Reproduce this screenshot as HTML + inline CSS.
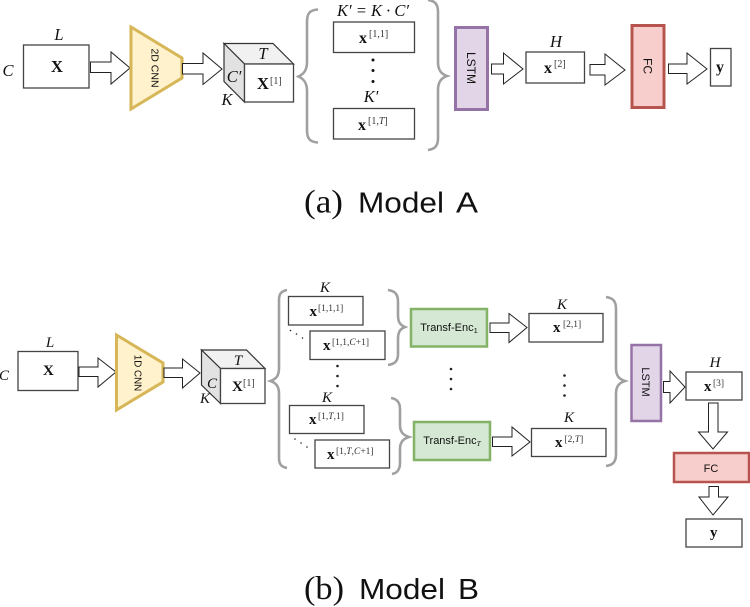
<!DOCTYPE html>
<html><head><meta charset="utf-8">
<style>
html,body{margin:0;padding:0;background:#fff;width:750px;height:607px;overflow:hidden}
svg{display:block}
.b{fill:#fff;stroke:#444;stroke-width:1.3}
.a{fill:#fff;stroke:#222;stroke-width:1}
.br{fill:none;stroke:#a0a0a0;stroke-width:2.6}
text{font-family:"Liberation Serif",serif;fill:#111}
.i{font-style:italic;font-size:16.5px;text-anchor:middle}
.j{font-style:italic;font-size:15px;text-anchor:middle}
.m{font-weight:bold;font-size:16px}
.s{font-size:10px;fill:#333}
.f{font-family:"Liberation Sans",sans-serif}
.c{font-size:33px}
.cs{font-family:"Liberation Sans",sans-serif;font-size:29px}
</style></head><body>
<svg width="750" height="607" viewBox="0 0 750 607" xmlns="http://www.w3.org/2000/svg">
<!-- Model A -->
<rect class="b" x="23.5" y="45" width="65.5" height="43"/>
<text class="i" x="59" y="40">L</text>
<text class="i" x="8" y="76">C</text>
<text class="m" x="51" y="72" style="font-size:16.5px">X</text>
<path class="a" d="M90.5 62H111V52L130 68 111 84V72.5H90.5Z"/>
<path d="M131 27L182 58V78L131 109Z" fill="#fff2cc" stroke="#d6b656" stroke-width="3"/>
<text class="f" transform="translate(151.5 68) rotate(90)" text-anchor="middle" style="font-size:10.5px">2D CNN</text>
<path class="a" d="M182.5 63.5H203V53L222 69 203 84.5V74H182.5Z"/>
<path d="M224 43.5H273L293.5 64H244.5Z" fill="#f1f1f1" stroke="#333" stroke-width="1.2"/>
<path d="M224 43.5L244.5 64V102L224 81.5Z" fill="#e2e2e2" stroke="#333" stroke-width="1.2"/>
<rect class="b" x="244.5" y="64" width="49" height="38"/>
<text class="i" x="263" y="59">T</text>
<text class="i" x="234" y="82">C′</text>
<text class="i" x="227" y="105">K</text>
<text class="m" x="257" y="89" style="font-size:16.5px">X</text>
<text class="s" x="270" y="84">[1]</text>

<path class="br" d="M318 9.5C310 10 307 13 307 22V62C307 70 304 74 298.5 76.5C304 79 307 83 307 91V130C307 139 310 142 318 142.5"/>
<path class="br" d="M428 0C435 1 438 4 438 12V62C438 70 441 74 447 76C441 78 438 82 438 90V138C438 146 435 149 428 150"/>
<rect class="b" x="333.5" y="22" width="81" height="30.5"/>
<rect class="b" x="333.5" y="108.5" width="81" height="30.5"/>
<text class="i" x="373" y="16">K′ = K · C′</text>
<text class="m" x="359" y="43">x</text><text class="s" x="369" y="37">[1,1]</text>
<text class="m" x="358" y="130">x</text><text class="s" x="368" y="124">[1,<tspan font-style="italic">T</tspan>]</text>
<circle cx="373" cy="60" r="1.5" fill="#111"/><circle cx="373" cy="70.5" r="1.5" fill="#111"/><circle cx="373" cy="81.5" r="1.5" fill="#111"/>
<text class="i" x="371" y="102">K′</text>

<rect x="455.5" y="27.5" width="32" height="82" fill="#e1d5e7" stroke="#9673a6" stroke-width="3"/>
<text class="f" transform="translate(467 68) rotate(90)" text-anchor="middle" style="font-size:12px">LSTM</text>
<path class="a" d="M491.5 64H503.5V53L523 69 503.5 84V74H491.5Z"/>
<rect class="b" x="526" y="52" width="58.5" height="31"/>
<text class="i" x="556" y="47">H</text>
<text class="m" x="544" y="73">x</text><text class="s" x="554" y="67">[2]</text>
<path class="a" d="M590 64.5H605V54L625 70 605 85V75H590Z"/>
<rect x="632" y="25.5" width="32" height="82" fill="#f8cecc" stroke="#b85450" stroke-width="3"/>
<text class="f" transform="translate(643.5 66) rotate(90)" text-anchor="middle" style="font-size:12px">FC</text>
<path class="a" d="M668.5 64H687V53L707 69 687 84V73.5H668.5Z"/>
<rect class="b" x="710.5" y="48.5" width="20.5" height="37.5"/>
<text class="m" x="716" y="72">y</text>

<text class="c" x="304" y="212.5" textLength="39" lengthAdjust="spacingAndGlyphs">(a)</text>
<text class="cs" x="358" y="212.5" textLength="86" lengthAdjust="spacingAndGlyphs">Model</text>
<text class="cs" x="456" y="212.5" textLength="22" lengthAdjust="spacingAndGlyphs">A</text>

<!-- Model B -->
<rect class="b" x="18" y="351.5" width="60" height="39"/>
<text class="j" x="50" y="347">L</text>
<text class="j" x="4" y="380">C</text>
<text class="m" x="43" y="375" style="font-size:15px">X</text>
<path class="a" d="M79 367H98V358L116 372 98 387V376.5H79Z"/>
<path d="M116.5 335L163 363V382L116.5 410Z" fill="#fff2cc" stroke="#d6b656" stroke-width="3"/>
<text class="f" transform="translate(134.5 373) rotate(90)" text-anchor="middle" style="font-size:9.8px">1D CNN</text>
<path class="a" d="M164 368H182.5V359L200 373 182.5 388V377.5H164Z"/>
<path d="M201.5 350H246.5L265 368.5H220.5Z" fill="#f1f1f1" stroke="#333" stroke-width="1.2"/>
<path d="M201.5 350L220.5 368.5V403.5L201.5 385Z" fill="#e2e2e2" stroke="#333" stroke-width="1.2"/>
<rect class="b" x="220.5" y="368.5" width="44.5" height="35"/>
<text class="j" x="238" y="365">T</text>
<text class="j" x="212" y="388">C</text>
<text class="j" x="205" y="403">K</text>
<text class="m" x="232" y="391" style="font-size:15px">X</text>
<text class="s" x="243" y="386">[1]</text>

<path class="br" d="M287 290C282 291 279 293 279 300V368C279 376 276 379 270.5 381C276 383 279 386 279 394V458C279 465 282 467 287 468"/>
<rect class="b" x="288.5" y="296.5" width="74.5" height="28.5"/>
<rect class="b" x="310" y="331" width="75" height="28.5"/>
<rect class="b" x="289.5" y="405.5" width="74.5" height="28"/>
<rect class="b" x="315" y="440" width="74.500" height="28"/>
<text class="j" x="325" y="292">K</text>
<text class="j" x="327" y="402">K</text>
<text class="m" x="309.5" y="316" style="font-size:15px">x</text><text class="s" x="318" y="311" style="font-size:9.5px">[1,1,1]</text>
<text class="m" x="323" y="350" style="font-size:15px">x</text><text class="s" x="332" y="345" style="font-size:9.5px">[1,1,<tspan font-style="italic">C</tspan>+1]</text>
<text class="m" x="309" y="424" style="font-size:15px">x</text><text class="s" x="318" y="419" style="font-size:9.5px">[1,<tspan font-style="italic">T</tspan>,1]</text>
<text class="m" x="327" y="459" style="font-size:15px">x</text><text class="s" x="336" y="454" style="font-size:9.5px">[1,<tspan font-style="italic">T</tspan>,<tspan font-style="italic">C</tspan>+1]</text>
<g fill="#222">
<circle cx="337.5" cy="366" r="1.3"/><circle cx="337.5" cy="376" r="1.3"/><circle cx="337.5" cy="386" r="1.3"/>
<circle cx="290.5" cy="330.5" r=".8"/><circle cx="296.5" cy="334" r=".8"/><circle cx="302.5" cy="338" r=".8"/>
<circle cx="295" cy="439" r=".8"/><circle cx="301" cy="443" r=".8"/><circle cx="307" cy="447" r=".8"/>
<circle cx="451" cy="369" r="1.3"/><circle cx="451" cy="379" r="1.3"/><circle cx="451" cy="389" r="1.3"/>
<circle cx="564.5" cy="375.5" r="1.3"/><circle cx="564.5" cy="385.5" r="1.3"/><circle cx="564.5" cy="395.5" r="1.3"/>
</g>
<path class="br" d="M388 290C395 291 398 294 398 302V315C398 322 400 325 405 327C400 329 398 332 398 339V354C398 361 395 364 388 365"/>
<path class="br" d="M391 398C397 399 400 402 400 409V425C400 432 403 435 409 437C403 439 400 442 400 449V463C400 470 397 473 392 474"/>
<rect x="411" y="309" width="76" height="37.5" fill="#d5e8d4" stroke="#82b366" stroke-width="2.5"/>
<rect x="414" y="422" width="76" height="38" fill="#d5e8d4" stroke="#82b366" stroke-width="2.5"/>
<text class="f" x="449" y="331" text-anchor="middle" style="font-size:11px">Transf-Enc<tspan font-size="7.5" dy="2">1</tspan></text>
<text class="f" x="452" y="444" text-anchor="middle" style="font-size:11px">Transf-Enc<tspan font-size="7.5" dy="2" font-style="italic" font-family="Liberation Serif">T</tspan></text>
<path class="a" d="M490 323H509V313.5L527 327.5 509 342.5V332.5H490Z"/>
<path class="a" d="M492.5 437H512V427L530 442 512 456V446.5H492.5Z"/>
<rect class="b" x="529" y="313.5" width="74" height="28.5"/>
<rect class="b" x="531.5" y="428.5" width="74.5" height="28"/>
<text class="j" x="562" y="309">K</text>
<text class="j" x="569" y="422">K</text>
<text class="m" x="553" y="332" style="font-size:15px">x</text><text class="s" x="563" y="327" style="font-size:9.5px">[2,1]</text>
<text class="m" x="555" y="447" style="font-size:15px">x</text><text class="s" x="564.5" y="442" style="font-size:9.5px">[2,<tspan font-style="italic">T</tspan>]</text>
<path class="br" d="M606 297C613 298 616 301 616 309V368C616 376 619 379 625 381C619 383 616 386 616 394V454C616 462 613 465 606 466"/>
<rect x="631.5" y="345" width="29.5" height="76" fill="#e1d5e7" stroke="#9673a6" stroke-width="2.5"/>
<text class="f" transform="translate(642 382) rotate(90)" text-anchor="middle" style="font-size:11px">LSTM</text>
<path class="a" d="M663.5 381.5H670V371L685 387 670 403V392.5H663.5Z"/>
<rect class="b" x="686" y="372" width="56" height="28"/>
<text class="j" x="715" y="367">H</text>
<text class="m" x="704" y="391" style="font-size:15px">x</text><text class="s" x="713" y="386" style="font-size:9.5px">[3]</text>
<path class="a" d="M708.5 403H718V432H727.5L713 449 698.5 432H708.5Z"/>
<rect x="674" y="453" width="75" height="29" fill="#f8cecc" stroke="#b85450" stroke-width="2.5"/>
<text class="f" x="711" y="472" text-anchor="middle" style="font-size:11px">FC</text>
<path class="a" d="M709 486.5H718.5V497H728L713 515 699 497H709Z"/>
<rect class="b" x="686" y="519" width="56" height="28"/>
<text class="m" x="710" y="537" style="font-size:15px">y</text>

<text class="c" x="304" y="599" textLength="40" lengthAdjust="spacingAndGlyphs">(b)</text>
<text class="cs" x="359" y="599" textLength="86" lengthAdjust="spacingAndGlyphs">Model</text>
<text class="cs" x="458" y="599" textLength="21" lengthAdjust="spacingAndGlyphs">B</text>
</svg>
</body></html>
